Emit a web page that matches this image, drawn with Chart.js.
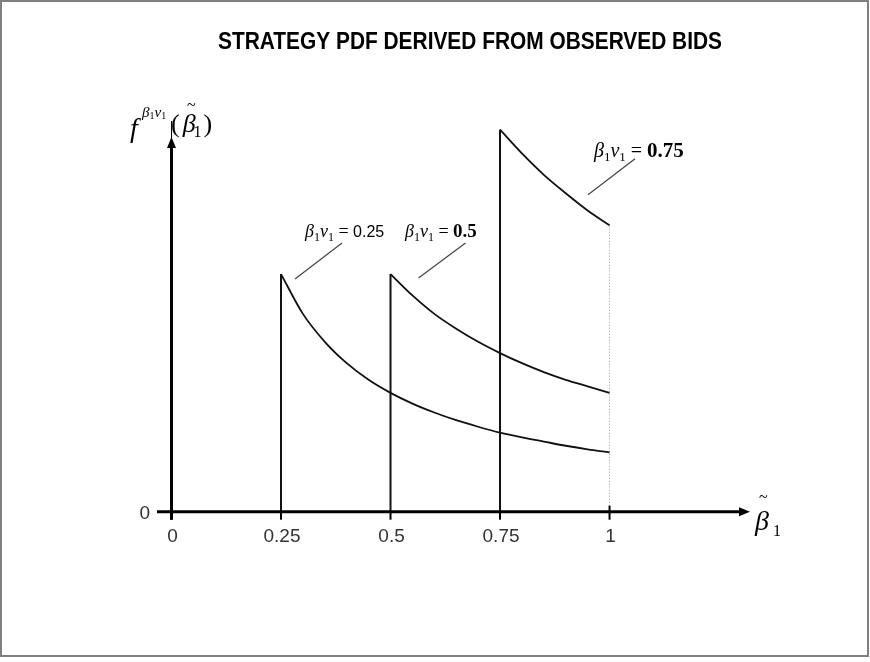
<!DOCTYPE html>
<html>
<head>
<meta charset="utf-8">
<script src="https://cdn.jsdelivr.net/npm/chart.js@4"></script>
<style>
  html, body { margin: 0; padding: 0; background: #fff; }
  #chart { display: block; }
</style>
</head>
<body>
<canvas id="chart" width="870" height="662"></canvas>
<script>
// values
const titleText = 'STRATEGY PDF DERIVED FROM OBSERVED BIDS';
const xTicks = [0, 0.25, 0.5, 0.75, 1];
const yTicks = [0];

const bidsA = [0.25, 0.30, 0.35, 0.40, 0.45, 0.50, 0.55, 0.60, 0.65, 0.70, 0.75, 0.80, 0.85, 0.90, 0.95, 1.00];
const pdfA  = [4.00, 3.33, 2.86, 2.50, 2.22, 2.00, 1.82, 1.67, 1.54, 1.43, 1.33, 1.25, 1.18, 1.11, 1.05, 1.00];

const bidsB = [0.50, 0.55, 0.60, 0.65, 0.70, 0.75, 0.80, 0.85, 0.90, 0.95, 1.00];
const pdfB  = [4.00, 3.64, 3.33, 3.08, 2.86, 2.67, 2.50, 2.35, 2.22, 2.11, 2.00];

const bidsC = [0.75, 0.80, 0.85, 0.90, 0.95, 1.00];
const pdfC  = [6.43, 6.03, 5.67, 5.36, 5.07, 4.82];

const seriesValues = ['0.25', '0.5', '0.75'];

function pts(xs, ys) {
    return xs.map((x, i) => ({ x: x, y: ys[i] }));
}
function drop(xs, ys, i) {
    return [{ x: xs[i], y: 0 }, { x: xs[i], y: ys[i] }];
}

const curveStyle = {
    showLine: true, pointRadius: 0, borderColor: '#111', borderWidth: 1.8,
    cubicInterpolationMode: 'monotone', fill: false
};
const dropStyle = {
    showLine: true, pointRadius: 0, borderColor: '#111', borderWidth: 2, fill: false
};

const datasets = [
    Object.assign({ data: pts(bidsA, pdfA) }, curveStyle),
    Object.assign({ data: pts(bidsB, pdfB) }, curveStyle),
    Object.assign({ data: pts(bidsC, pdfC) }, curveStyle),
    Object.assign({ data: drop(bidsA, pdfA, 0) }, dropStyle),
    Object.assign({ data: drop(bidsB, pdfB, 0) }, dropStyle),
    Object.assign({ data: drop(bidsC, pdfC, 0) }, dropStyle),
    // dotted line at the upper end of the support
    { data: drop(bidsC, pdfC, bidsC.length - 1), showLine: true, pointRadius: 0,
      borderColor: '#999', borderWidth: 1, borderDash: [1, 2] }
];

// text made of runs: [text, font, dy]
function runs(ctx, x, y, parts) {
    parts.forEach(p => {
        ctx.font = p[1];
        ctx.fillText(p[0], x, y + (p[2] || 0));
        x += ctx.measureText(p[0]).width;
    });
    return x;
}

function betaV(size, sub, valueFont, value) {
    return [
        ['β', 'italic ' + size + 'px "Liberation Serif"'],
        ['1', sub + 'px "Liberation Serif"', 4],
        ['v', 'italic ' + size + 'px "Liberation Serif"'],
        ['1', sub + 'px "Liberation Serif"', 4],
        [' = ', size + 'px "Liberation Serif"'],
        [value, valueFont]
    ];
}

const decorations = {
    id: 'decorations',
    beforeDraw(chart) {
        const ctx = chart.ctx;
        ctx.save();
        ctx.fillStyle = '#fff';
        ctx.fillRect(0, 0, chart.width, chart.height);
        ctx.restore();
    },
    afterDraw(chart) {
        const ctx = chart.ctx;
        const xs = chart.scales.x, ys = chart.scales.y;
        const x0 = xs.getPixelForValue(0), y0 = ys.getPixelForValue(0);
        ctx.save();

        // frame
        ctx.strokeStyle = '#808080';
        ctx.lineWidth = 2;
        ctx.strokeRect(1, 1, 867, 655);

        // title
        ctx.fillStyle = '#000';
        ctx.font = 'bold 23px "Liberation Sans"';
        const tw = ctx.measureText(titleText).width;
        ctx.save();
        ctx.translate(470, 49);
        ctx.scale(504 / tw, 1);
        ctx.textAlign = 'center';
        ctx.fillText(titleText, 0, 0);
        ctx.restore();

        // axes
        ctx.strokeStyle = '#000';
        ctx.fillStyle = '#000';
        ctx.lineWidth = 3;
        ctx.beginPath();
        ctx.moveTo(157, y0); ctx.lineTo(741, y0);
        ctx.moveTo(x0, y0 + 8); ctx.lineTo(x0, 146);
        ctx.stroke();
        ctx.lineWidth = 1;
        ctx.beginPath();
        ctx.moveTo(x0, 138); ctx.lineTo(x0, 121);
        ctx.stroke();
        ctx.beginPath();
        ctx.moveTo(750, y0); ctx.lineTo(739, y0 - 4.5); ctx.lineTo(739, y0 + 4.5); ctx.closePath();
        ctx.moveTo(x0, 137); ctx.lineTo(x0 - 4.5, 148); ctx.lineTo(x0 + 4.5, 148); ctx.closePath();
        ctx.fill();

        // ticks and tick labels
        ctx.lineWidth = 2;
        ctx.font = '19px "Liberation Sans"';
        ctx.fillStyle = '#333';
        ctx.textAlign = 'center';
        xTicks.forEach(v => {
            const px = xs.getPixelForValue(v);
            ctx.beginPath();
            ctx.moveTo(px, v === 1 ? y0 - 6 : y0);
            ctx.lineTo(px, y0 + 8);
            ctx.stroke();
            ctx.fillText(String(v), px + 1, 542);
        });
        ctx.textAlign = 'right';
        yTicks.forEach(v => {
            ctx.fillText(String(v), 150, ys.getPixelForValue(v) + 7);
        });

        // axis titles
        ctx.textAlign = 'left';
        ctx.fillStyle = '#000';
        runs(ctx, 130, 137, [['f', 'italic 28px "Liberation Serif"']]);
        runs(ctx, 142, 117, [
            ['β', 'italic 15px "Liberation Serif"'],
            ['1', '10px "Liberation Serif"', 2],
            ['v', 'italic 15px "Liberation Serif"'],
            ['1', '10px "Liberation Serif"', 2]
        ]);
        let lx = runs(ctx, 171, 132, [['(', '26px "Liberation Serif"']]);
        lx = runs(ctx, lx + 3, 132, [['β', 'italic 26px "Liberation Serif"']]);
        runs(ctx, lx - 2, 137, [['1', '16px "Liberation Serif"']]);
        runs(ctx, lx + 8, 132, [[')', '26px "Liberation Serif"']]);
        runs(ctx, 187, 110, [['~', '16px "Liberation Serif"']]);

        runs(ctx, 755, 530, [['β', 'italic 28px "Liberation Serif"']]);
        runs(ctx, 773, 536, [['1', '16px "Liberation Serif"']]);
        runs(ctx, 759, 502, [['~', '16px "Liberation Serif"']]);

        // series labels with leader lines
        const notes = [
            { x: bidsA[0], y: pdfA[0], lead: [14, 5, 61, -31], text: [305, 237],
              parts: betaV(18, 12, '16px "Liberation Sans"', seriesValues[0]) },
            { x: bidsB[0], y: pdfB[0], lead: [28, 4, 75, -31], text: [405, 237],
              parts: betaV(18, 12, 'bold 19px "Liberation Serif"', seriesValues[1]) },
            { x: bidsC[0], y: pdfC[0], lead: [88, 65, 135, 29], text: [594, 157],
              parts: betaV(20, 13, 'bold 21px "Liberation Serif"', seriesValues[2]) }
        ];
        ctx.strokeStyle = '#444';
        ctx.lineWidth = 1.2;
        notes.forEach(n => {
            const px = xs.getPixelForValue(n.x), py = ys.getPixelForValue(n.y);
            ctx.beginPath();
            ctx.moveTo(px + n.lead[0], py + n.lead[1]);
            ctx.lineTo(px + n.lead[2], py + n.lead[3]);
            ctx.stroke();
            runs(ctx, n.text[0], n.text[1], n.parts);
        });

        ctx.restore();
    }
};

new Chart(document.getElementById('chart'), {
    type: 'scatter',
    data: { datasets: datasets },
    options: {
        responsive: false,
        animation: false,
        layout: { padding: { left: 171.5, right: 120.3, top: 120.8, bottom: 150.3 } },
        plugins: { legend: { display: false }, tooltip: { enabled: false }, title: { display: false } },
        scales: {
            x: { type: 'linear', min: 0, max: 1.32, display: false },
            y: { type: 'linear', min: 0, max: 6.58, display: false }
        }
    },
    plugins: [decorations]
});
</script>
</body>
</html>
